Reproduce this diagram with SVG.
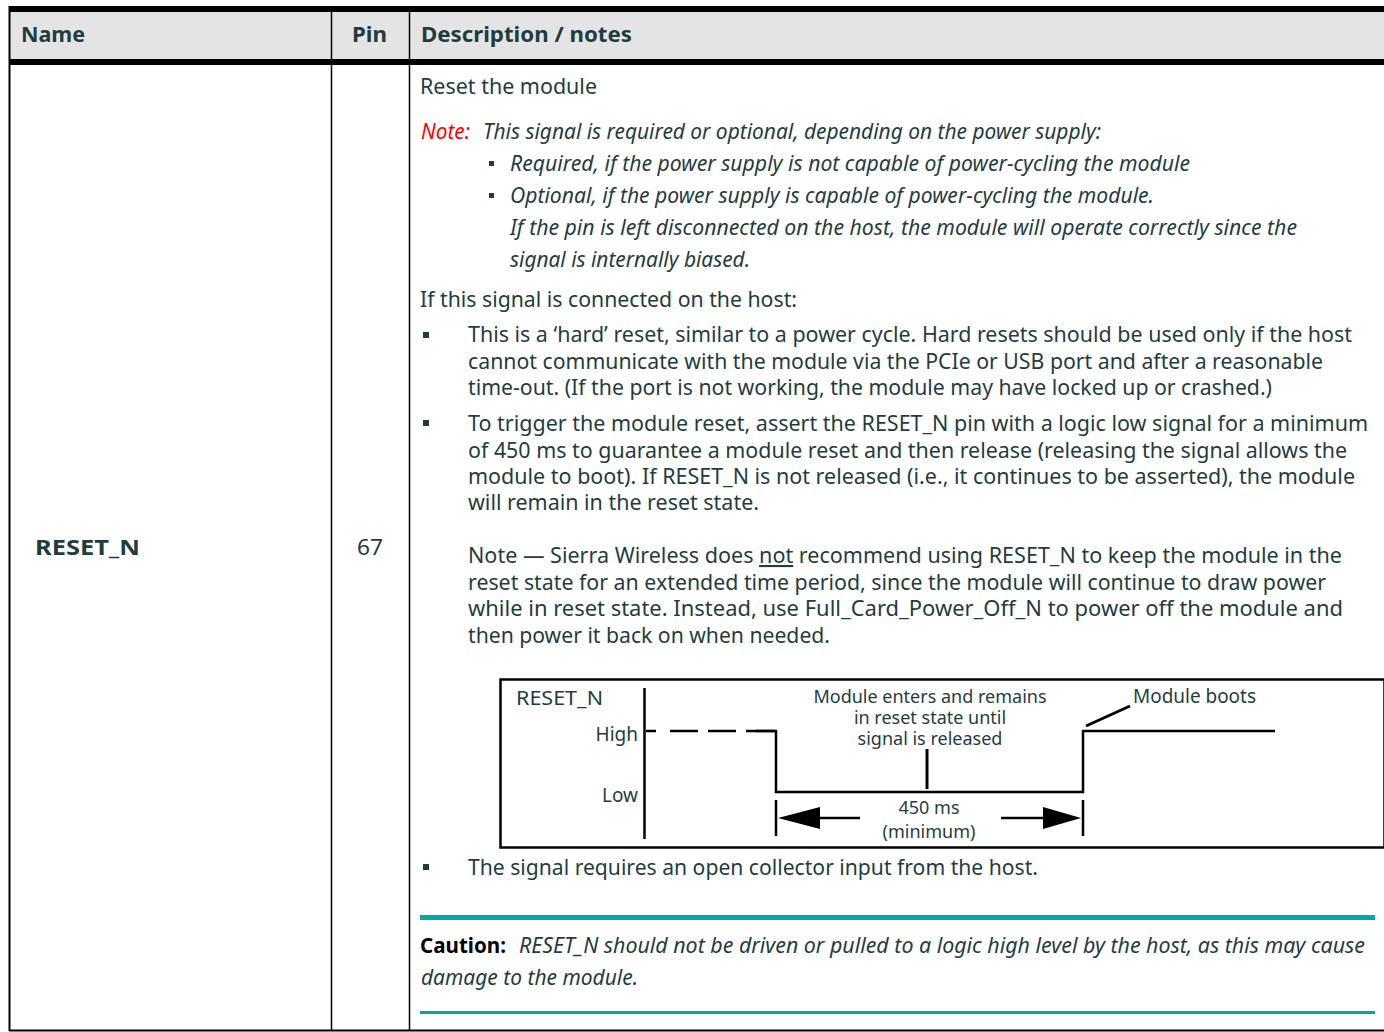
<svg xmlns="http://www.w3.org/2000/svg" width="1384" height="1032" viewBox="0 0 1384 1032">
<style>
.t{font-family:"Noto Sans","Open Sans",sans-serif;font-size:21px;fill:#1f3d3d}
.i{font-style:italic}
.b{font-weight:bold}
.h{font-family:"Noto Sans","Open Sans",sans-serif;font-size:21px;font-weight:bold;fill:#1f3d3d}
.d{font-family:"Noto Sans","Open Sans",sans-serif;font-size:19px;fill:#1f3d3d}
.s{font-family:"Noto Sans","Open Sans",sans-serif;font-size:18px;fill:#1f3d3d}
.ln{stroke:#000;fill:none}
.bul{fill:#1f3d3d}
</style>
<rect width="1384" height="1032" fill="#fff"/>
<g id="table">
<rect x="9" y="12" width="1375" height="47" fill="#e4e4e4"/>
<rect x="9" y="6" width="1375" height="6" fill="#000"/>
<rect x="9" y="59" width="1375" height="6" fill="#000"/>
<line class="ln" x1="9.5" y1="6" x2="9.5" y2="1031" stroke-width="2"/>
<line class="ln" x1="331.5" y1="12" x2="331.5" y2="1031" stroke-width="1.5"/>
<line class="ln" x1="409.5" y1="12" x2="409.5" y2="1031" stroke-width="1.5"/>
<line class="ln" x1="9" y1="1030.5" x2="1384" y2="1030.5" stroke-width="2"/>
</g>
<g id="header">
<text class="h" x="21" y="42" textLength="64" lengthAdjust="spacingAndGlyphs">Name</text>
<text class="h" x="352" y="42" textLength="35" lengthAdjust="spacingAndGlyphs">Pin</text>
<text class="h" x="421" y="42" textLength="211" lengthAdjust="spacingAndGlyphs">Description / notes</text>
</g>
<g id="name-cell">
<text class="h" x="35" y="555" textLength="105" lengthAdjust="spacingAndGlyphs">RESET_N</text>
</g>
<g id="pin-cell">
<text class="t" x="357" y="555" textLength="26" lengthAdjust="spacingAndGlyphs">67</text>
</g>
<g id="description">
<text class="t" x="420" y="94" textLength="177" lengthAdjust="spacingAndGlyphs">Reset the module</text>
<text class="t i" x="421" y="139" textLength="49" lengthAdjust="spacingAndGlyphs" style="fill:#ff0000">Note:</text>
<text class="t i" x="483" y="139" textLength="618" lengthAdjust="spacingAndGlyphs">This signal is required or optional, depending on the power supply:</text>
<rect class="bul" x="489" y="161" width="5" height="5"/>
<text class="t i" x="510" y="171" textLength="680" lengthAdjust="spacingAndGlyphs">Required, if the power supply is not capable of power-cycling the module</text>
<rect class="bul" x="489" y="193" width="5" height="5"/>
<text class="t i" x="510" y="203" textLength="644" lengthAdjust="spacingAndGlyphs">Optional, if the power supply is capable of power-cycling the module.</text>
<text class="t i" x="510" y="235" textLength="787" lengthAdjust="spacingAndGlyphs">If the pin is left disconnected on the host, the module will operate correctly since the</text>
<text class="t i" x="510" y="267" textLength="240" lengthAdjust="spacingAndGlyphs">signal is internally biased.</text>
<text class="t" x="420" y="307" textLength="377" lengthAdjust="spacingAndGlyphs">If this signal is connected on the host:</text>
<rect class="bul" x="423" y="332" width="6" height="6"/>
<text class="t" x="468" y="342" textLength="884" lengthAdjust="spacingAndGlyphs">This is a ‘hard’ reset, similar to a power cycle. Hard resets should be used only if the host</text>
<text class="t" x="468" y="369" textLength="855" lengthAdjust="spacingAndGlyphs">cannot communicate with the module via the PCIe or USB port and after a reasonable</text>
<text class="t" x="468" y="395" textLength="804" lengthAdjust="spacingAndGlyphs">time-out. (If the port is not working, the module may have locked up or crashed.)</text>
<rect class="bul" x="423" y="420" width="6" height="6"/>
<text class="t" x="468" y="431" textLength="900" lengthAdjust="spacingAndGlyphs">To trigger the module reset, assert the RESET_N pin with a logic low signal for a minimum</text>
<text class="t" x="468" y="458" textLength="879" lengthAdjust="spacingAndGlyphs">of 450 ms to guarantee a module reset and then release (releasing the signal allows the</text>
<text class="t" x="468" y="484" textLength="887" lengthAdjust="spacingAndGlyphs">module to boot). If RESET_N is not released (i.e., it continues to be asserted), the module</text>
<text class="t" x="468" y="510" textLength="291" lengthAdjust="spacingAndGlyphs">will remain in the reset state.</text>
<text class="t" x="468" y="563" textLength="874" lengthAdjust="spacingAndGlyphs">Note — Sierra Wireless does <tspan text-decoration="underline">not</tspan> recommend using RESET_N to keep the module in the</text>
<text class="t" x="468" y="590" textLength="858" lengthAdjust="spacingAndGlyphs">reset state for an extended time period, since the module will continue to draw power</text>
<text class="t" x="468" y="616" textLength="875" lengthAdjust="spacingAndGlyphs">while in reset state. Instead, use Full_Card_Power_Off_N to power off the module and</text>
<text class="t" x="468" y="643" textLength="362" lengthAdjust="spacingAndGlyphs">then power it back on when needed.</text>
<rect class="bul" x="423" y="864" width="6" height="6"/>
<text class="t" x="468" y="875" textLength="570" lengthAdjust="spacingAndGlyphs">The signal requires an open collector input from the host.</text>
</g>
<g id="timing-diagram">
<rect x="500.5" y="679.5" width="884" height="168" fill="none" stroke="#000" stroke-width="2.5"/>
<line class="ln" x1="644.5" y1="688" x2="644.5" y2="839" stroke-width="2.5"/>
<text class="d" x="516" y="705" textLength="87" lengthAdjust="spacingAndGlyphs">RESET_N</text>
<text class="d" x="638" y="741" text-anchor="end">High</text>
<text class="d" x="638" y="802" text-anchor="end">Low</text>
<path class="ln" d="M646,731 H775" stroke-width="2.5" stroke-dasharray="10,14,28,10,28,10,28,0"/>
<path class="ln" d="M756,731 H776 V792 H1083 V731 H1275" stroke-width="2.5"/>
<line class="ln" x1="927" y1="749" x2="927" y2="789" stroke-width="3"/>
<text class="s" text-anchor="middle"><tspan x="930" y="703">Module enters and remains</tspan><tspan x="930" y="724">in reset state until</tspan><tspan x="930" y="745">signal is released</tspan></text>
<line class="ln" x1="1086" y1="726" x2="1130" y2="706" stroke-width="3"/>
<text class="d" x="1133" y="703" textLength="123" lengthAdjust="spacingAndGlyphs">Module boots</text>
<line class="ln" x1="776" y1="800" x2="776" y2="836" stroke-width="2.5"/>
<line class="ln" x1="1083" y1="800" x2="1083" y2="836" stroke-width="2.5"/>
<path d="M778,818 L820,807 L820,829 Z" fill="#000"/>
<line class="ln" x1="818" y1="818" x2="860" y2="818" stroke-width="2.5"/>
<path d="M1081,818 L1043,807 L1043,829 Z" fill="#000"/>
<line class="ln" x1="1001" y1="818" x2="1045" y2="818" stroke-width="2.5"/>
<text class="s" text-anchor="middle"><tspan x="929" y="814">450 ms</tspan><tspan x="929" y="838">(minimum)</tspan></text>
</g>
<g id="caution">
<rect x="420" y="915" width="955" height="5" fill="#00a9a3"/>
<text class="t b" x="420" y="953" textLength="86" lengthAdjust="spacingAndGlyphs" style="fill:#000">Caution:</text>
<text class="t i" x="519" y="953" textLength="846" lengthAdjust="spacingAndGlyphs">RESET_N should not be driven or pulled to a logic high level by the host, as this may cause</text>
<text class="t i" x="421" y="985" textLength="217" lengthAdjust="spacingAndGlyphs">damage to the module.</text>
<rect x="420" y="1011" width="955" height="3" fill="#00a9a3"/>
</g>
</svg>
